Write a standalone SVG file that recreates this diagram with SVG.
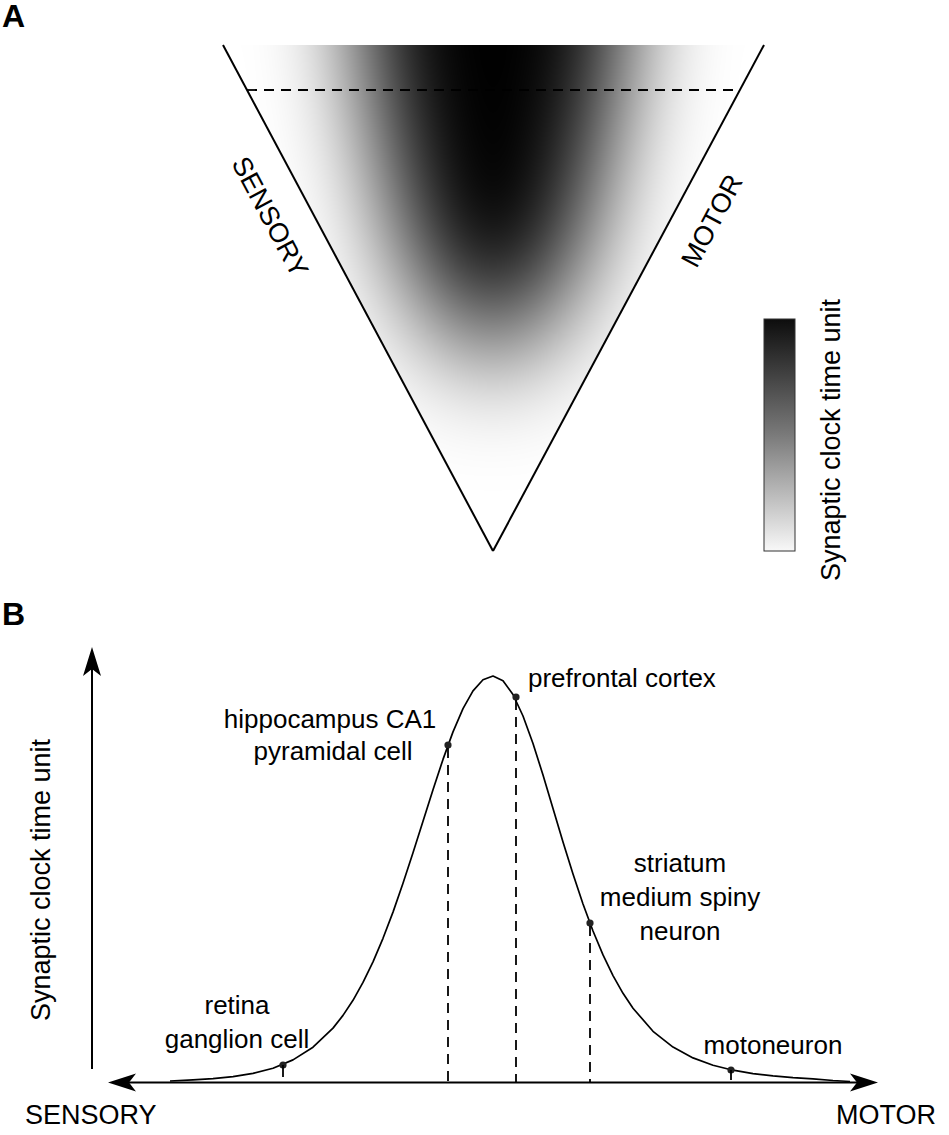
<svg xmlns="http://www.w3.org/2000/svg" width="949" height="1135" viewBox="0 0 949 1135">
<style>
.lbl{font-family:"Liberation Sans",Arial,sans-serif;font-size:26px;fill:#000}
.big{font-family:"Liberation Sans",Arial,sans-serif;font-size:27px;fill:#000}
.panel{font-family:"Liberation Sans",Arial,sans-serif;font-size:32px;font-weight:bold;fill:#000}
.edge{stroke:#000;stroke-width:2;fill:none}
.dash{stroke:#000;stroke-width:1.8;stroke-dasharray:10 7;fill:none}
.dot{fill:#222}
</style>
<defs>
<clipPath id="tri"><polygon points="223,45 764,45 493,551"/></clipPath>
<filter id="blur" filterUnits="userSpaceOnUse" x="100" y="-250" width="800" height="900">
<feGaussianBlur stdDeviation="50 65"/>
</filter>
<linearGradient id="bar" x1="0" y1="0" x2="0" y2="1">
<stop offset="0" stop-color="#0d0d0d"/>
<stop offset="0.5" stop-color="#7a7a7a"/>
<stop offset="1" stop-color="#f8f8f8"/>
</linearGradient>
</defs>
<rect width="949" height="1135" fill="#fff"/>

<g id="panelA">
<text class="panel" x="2" y="27">A</text>
<g id="heatmap" clip-path="url(#tri)">
<path d="M353,-150 L633,-150 L625,45 L580,260 Q493,430 406,260 L361,45 Z" fill="#000" filter="url(#blur)"/>
</g>
<g id="colorbar">
<rect x="764" y="319" width="31" height="232" fill="url(#bar)" stroke="#333" stroke-width="1"/>
<text class="big" transform="translate(840 440) rotate(-90)" text-anchor="middle">Synaptic clock time unit</text>
</g>
<g id="sensoryA"><text class="big" transform="translate(262 221) rotate(62)" text-anchor="middle">SENSORY</text></g>
<g id="motorA"><text class="big" transform="translate(720 225) rotate(-62)" text-anchor="middle">MOTOR</text></g>
</g>

<g id="connectorsA">
<line class="edge" x1="223" y1="45" x2="493" y2="551"/>
<line class="edge" x1="764" y1="45" x2="493" y2="551"/>
<line class="dash" x1="247" y1="90" x2="740" y2="90"/>
</g>

<g id="panelB">
<text class="panel" x="2" y="625">B</text>
<g id="ylabel"><text class="big" transform="translate(50 880) rotate(-90)" text-anchor="middle">Synaptic clock time unit</text></g>
<g id="sensoryB"><text class="big" x="25" y="1124">SENSORY</text></g>
<g id="motorB"><text class="big" x="836" y="1124">MOTOR</text></g>

<g id="curve">
<path fill="none" stroke="#000" stroke-width="1.7" stroke-linejoin="round" d="M170,1081 L193,1079.9 213,1078.7 233,1076.6 253,1073.4 273,1068.2 293,1059.9 313,1047.2 333,1028.1 343,1015.4 353,1000.3 363,982.4 373,961.8 383,938.3 393,912.1 403,883.3 413,852.8 423,821.2 433,789.7 443,759.4 453,731.9 463,708.6 473,690.9 483,679.8 493,676 503,680.7 513,694.5 523,716 533,743.5 543,775 553,808.4 563,842 573,874.1 583,904 593,931 603,954.9 613,975.6 623,993.3 633,1008.2 653,1031.3 673,1047.1 693,1057.9 713,1065.2 733,1070.2 753,1073.6 773,1075.9 793,1077.6 813,1078.8 833,1080.5 850,1081.5"/>
</g>

<g id="retina">
<circle class="dot" cx="283" cy="1065" r="3.6"/>
<line x1="283" y1="1065" x2="283" y2="1077" stroke="#000" stroke-width="1.8"/>
<text class="lbl" x="237" y="1014" text-anchor="middle">retina</text>
<text class="lbl" x="237" y="1048" text-anchor="middle">ganglion cell</text>
</g>
<g id="hippocampus">
<circle class="dot" cx="448" cy="745" r="3.6"/>
<text class="lbl" x="330" y="728" text-anchor="middle">hippocampus CA1</text>
<text class="lbl" x="333" y="760" text-anchor="middle">pyramidal cell</text>
</g>
<g id="prefrontal">
<circle class="dot" cx="516" cy="697" r="3.6"/>
<text class="lbl" x="528" y="687">prefrontal cortex</text>
</g>
<g id="striatum">
<circle class="dot" cx="590" cy="923" r="3.6"/>
<text class="lbl" x="680" y="872" text-anchor="middle">striatum</text>
<text class="lbl" x="680" y="906" text-anchor="middle">medium spiny</text>
<text class="lbl" x="680" y="940" text-anchor="middle">neuron</text>
</g>
<g id="motoneuron">
<circle class="dot" cx="731" cy="1070" r="3.6"/>
<line x1="731" y1="1070" x2="731" y2="1080" stroke="#000" stroke-width="1.8"/>
<text class="lbl" x="773" y="1054" text-anchor="middle">motoneuron</text>
</g>
</g>

<g id="connectorsB">
<line class="edge" x1="115" y1="1082.5" x2="870" y2="1082.5"/>
<line class="edge" x1="92" y1="660" x2="92" y2="1069"/>
<path d="M108,1082.5 L136,1073.5 L129,1082.5 L136,1091.5 Z" fill="#000"/>
<path d="M878,1082.5 L850,1073.5 L857,1082.5 L850,1091.5 Z" fill="#000"/>
<path d="M92,647 L83,676 L92,669 L101,676 Z" fill="#000"/>
<line class="dash" x1="448" y1="748" x2="448" y2="1082"/>
<line class="dash" x1="516" y1="700" x2="516" y2="1082"/>
<line class="dash" x1="590" y1="926" x2="590" y2="1082"/>
</g>
</svg>
